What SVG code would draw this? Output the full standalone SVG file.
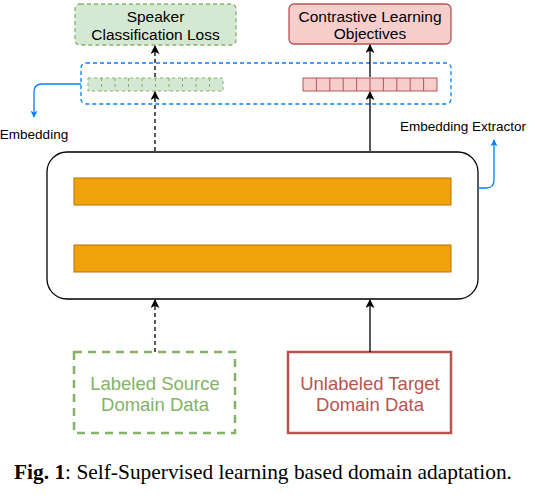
<svg xmlns="http://www.w3.org/2000/svg" width="535" height="498" viewBox="0 0 535 498">
<style>
.t{font-family:"Liberation Sans",Arial,sans-serif;fill:#000;text-anchor:middle}
.cg{fill:#d5e8d4;stroke:#82b366;stroke-dasharray:3,3;stroke-width:1}
.cr{fill:#f8cecc;stroke:#b85450;stroke-width:1}
.bar{fill:#f0a30a;stroke:#bd7000;stroke-width:1}
.k{stroke:#000;stroke-width:1.3;fill:none}
.b{stroke:#007fff;stroke-width:1.3;fill:none}
</style>
<defs>
<marker id="ak" viewBox="0 0 10 10" refX="9" refY="5" markerWidth="9" markerHeight="9" orient="auto" markerUnits="userSpaceOnUse"><path d="M0,0 L10,5 L0,10 L2.5,5 Z" fill="#000"/></marker>
<marker id="ab" viewBox="0 0 10 10" refX="9" refY="5" markerWidth="7" markerHeight="7" orient="auto" markerUnits="userSpaceOnUse"><path d="M0,0 L10,5 L0,10 L2.5,5 Z" fill="#007fff"/></marker>
</defs>
<rect width="535" height="498" fill="#fff"/>
<g id="speaker-loss">
<rect x="75" y="4" width="161" height="41" rx="5" fill="#d5e8d4" stroke="#82b366" stroke-width="1.3" stroke-dasharray="4,3"/>
<text class="t" x="155.5" y="21.5" font-size="15.5">Speaker</text>
<text class="t" x="155.5" y="39.5" font-size="15.5">Classification Loss</text>
</g>
<g id="contrastive">
<rect x="289" y="4" width="162" height="40" rx="5" fill="#f8cecc" stroke="#b85450" stroke-width="1.3"/>
<text class="t" x="370" y="21.5" font-size="15.5">Contrastive Learning</text>
<text class="t" x="370" y="39" font-size="15.5">Objectives</text>
</g>
<g id="embedding-area">
<rect x="81" y="63" width="370" height="41" rx="5" fill="none" stroke="#007fff" stroke-width="1.3" stroke-dasharray="4,3"/>
<g id="green-cells">
<rect class="cg" x="88" y="78" width="135" height="13"/>
<path d="M101.5,78v13M115,78v13M128.5,78v13M142,78v13M155.5,78v13M169,78v13M182.5,78v13M196,78v13M209.5,78v13" stroke="#82b366" stroke-dasharray="3,3"/>
</g>
<g id="red-cells">
<rect class="cr" x="303" y="78" width="134" height="13"/>
<path d="M316.4,78v13M329.8,78v13M343.2,78v13M356.6,78v13M370,78v13M383.4,78v13M396.8,78v13M410.2,78v13M423.6,78v13" stroke="#b85450"/>
</g>
</g>
<g id="extractor">
<rect x="47" y="152" width="431" height="147" rx="20" fill="#fff" stroke="#000" stroke-width="1.3"/>
<rect class="bar" x="74" y="178" width="377" height="27"/>
<rect class="bar" x="74" y="245" width="377" height="27"/>
</g>
<g id="labeled-source">
<rect x="74" y="352" width="161" height="81" fill="#fff" stroke="#82b366" stroke-width="2.5" stroke-dasharray="8,6"/>
<text class="t" x="155" y="390" font-size="18.5" style="fill:#82b366">Labeled Source</text>
<text class="t" x="155" y="411" font-size="18.5" style="fill:#82b366">Domain Data</text>
</g>
<g id="unlabeled-target">
<rect x="288" y="352" width="163" height="81" fill="#fff" stroke="#b85450" stroke-width="2.5"/>
<text class="t" x="370" y="390" font-size="18.5" style="fill:#b85450">Unlabeled Target</text>
<text class="t" x="370" y="411" font-size="18.5" style="fill:#b85450">Domain Data</text>
</g>
<g id="labels">
<text class="t" x="34" y="138.5" font-size="13.5">Embedding</text>
<text class="t" x="463" y="130.5" font-size="13.5">Embedding Extractor</text>
</g>
<g id="connectors">
<path class="k" d="M155,352 V300" stroke-dasharray="4,3" marker-end="url(#ak)"/>
<path class="k" d="M370,352 V300" marker-end="url(#ak)"/>
<path class="k" d="M155,151 V92" stroke-dasharray="4,3" marker-end="url(#ak)"/>
<path class="k" d="M370,151 V92" marker-end="url(#ak)"/>
<path class="k" d="M155,77 V46" stroke-dasharray="4,3" marker-end="url(#ak)"/>
<path class="k" d="M370,77 V45" marker-end="url(#ak)"/>
<path class="b" d="M81,84 H42 Q34,84 34,92 V117" marker-end="url(#ab)"/>
<path class="b" d="M478,188 H486 Q494,188 494,180 V140" marker-end="url(#ab)"/>
</g>
<g id="caption">
<text x="14" y="479" font-family="'Liberation Serif','Times New Roman',serif" font-size="21" fill="#000" textLength="498" lengthAdjust="spacingAndGlyphs"><tspan font-weight="bold">Fig. 1</tspan>: Self-Supervised learning based domain adaptation.</text>
</g>
</svg>
